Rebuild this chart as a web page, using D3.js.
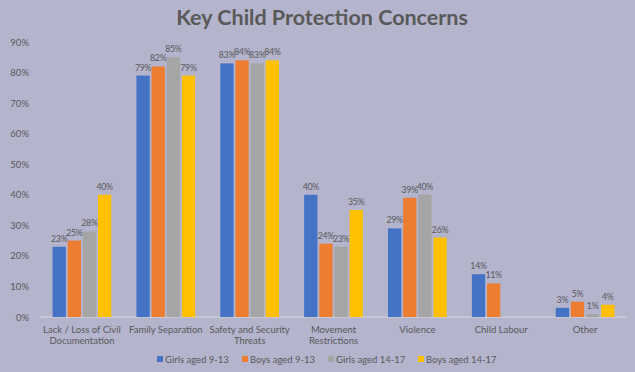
<!DOCTYPE html>
<html>
<head>
<meta charset="utf-8">
<script src="https://cdn.jsdelivr.net/npm/d3@7"></script>
<style>
  body { margin: 0; background: #b4b4cc; }
  svg text { font-family: Lato, "Open Sans", sans-serif; fill: #595959; }
</style>
</head>
<body>
<div id="chart"></div>
<script>
const categories = ["Lack / Loss of Civil|Documentation", "Family Separation", "Safety and Security|Threats", "Movement|Restrictions", "Violence", "Child Labour", "Other"];
const seriesNames = ["Girls aged 9-13", "Boys aged 9-13", "Girls aged 14-17", "Boys aged 14-17"];
const girls913 = [23, 79, 83, 40, 29, 14, 3];
const boys913 = [25, 82, 84, 24, 39, 11, 5];
const girls1417 = [28, 85, 83, 23, 40, null, 1];
const boys1417 = [40, 79, 84, 35, 26, null, 4];
const yTicks = [0, 10, 20, 30, 40, 50, 60, 70, 80, 90];
const colors = ["#4472c4", "#ed7d31", "#a5a5a5", "#ffc000"];

const series = [girls913, boys913, girls1417, boys1417];
const W = 635, H = 372;
const margin = { left: 40, right: 8, top: 42, bottom: 55 };

const svg = d3.select("#chart").append("svg")
    .attr("width", W)
    .attr("height", H);

svg.append("rect").attr("width", W).attr("height", H).attr("fill", "#b4b4cc");

svg.append("text")
    .attr("x", 322).attr("y", 25)
    .attr("text-anchor", "middle")
    .style("font-size", "21.5px")
    .style("font-weight", "bold")
    .text("Key Child Protection Concerns");

const x = d3.scaleBand()
    .domain(categories)
    .range([margin.left, W - margin.right])
    .paddingInner(0.3)
    .paddingOuter(0.15);

const xs = d3.scaleBand()
    .domain(d3.range(series.length))
    .range([0, x.bandwidth()])
    .paddingInner(0.12);

const y = d3.scaleLinear()
    .domain([0, 90])
    .range([H - margin.bottom, margin.top]);

// y axis labels
const yAxis = svg.append("g")
    .attr("transform", `translate(${margin.left - 8},0)`)
    .call(d3.axisLeft(y).tickValues(yTicks).tickFormat(d => d + "%").tickSize(0));
yAxis.select(".domain").remove();
yAxis.selectAll("text").style("font-size", "9.5px").attr("dx", 0);

// baseline
svg.append("line")
    .attr("x1", margin.left).attr("x2", W - margin.right)
    .attr("y1", y(0)).attr("y2", y(0))
    .attr("stroke", "#d9d9d9").attr("stroke-width", 1);

const groups = svg.append("g").selectAll("g")
    .data(categories)
    .join("g")
    .attr("transform", d => `translate(${x(d)},0)`);

series.forEach((vals, si) => {
    groups.each(function (cat, ci) {
        const v = vals[ci];
        if (v == null) return;
        const g = d3.select(this);
        g.append("rect")
            .attr("x", xs(si))
            .attr("width", xs.bandwidth())
            .attr("y", y(v))
            .attr("height", y(0) - y(v))
            .attr("fill", colors[si]);
        g.append("text")
            .attr("x", xs(si) + xs.bandwidth() / 2)
            .attr("y", y(v) - 5)
            .attr("text-anchor", "middle")
            .style("font-size", "8.8px")
            .style("letter-spacing", "-0.3px")
            .text(v + "%");
    });
});

// category labels
const xLabels = svg.append("g").selectAll("text")
    .data(categories)
    .join("text")
    .attr("x", d => x(d) + x.bandwidth() / 2)
    .attr("y", y(0) + 16)
    .attr("text-anchor", "middle")
    .style("font-size", "9.5px");
xLabels.selectAll("tspan")
    .data(d => d.split("|"))
    .join("tspan")
    .attr("x", function () { return d3.select(this.parentNode).attr("x"); })
    .attr("dy", (d, i) => i === 0 ? 0 : 11)
    .text(d => d);

// legend
const legendX = [157, 242, 328, 418];
const legend = svg.append("g").selectAll("g")
    .data(seriesNames)
    .join("g")
    .attr("transform", (d, i) => `translate(${legendX[i]},363)`);
legend.append("rect")
    .attr("x", 0).attr("y", -7)
    .attr("width", 6).attr("height", 6)
    .attr("fill", (d, i) => colors[i]);
legend.append("text")
    .attr("x", 8).attr("y", 0)
    .style("font-size", "9.5px")
    .text(d => d);
</script>
</body>
</html>
